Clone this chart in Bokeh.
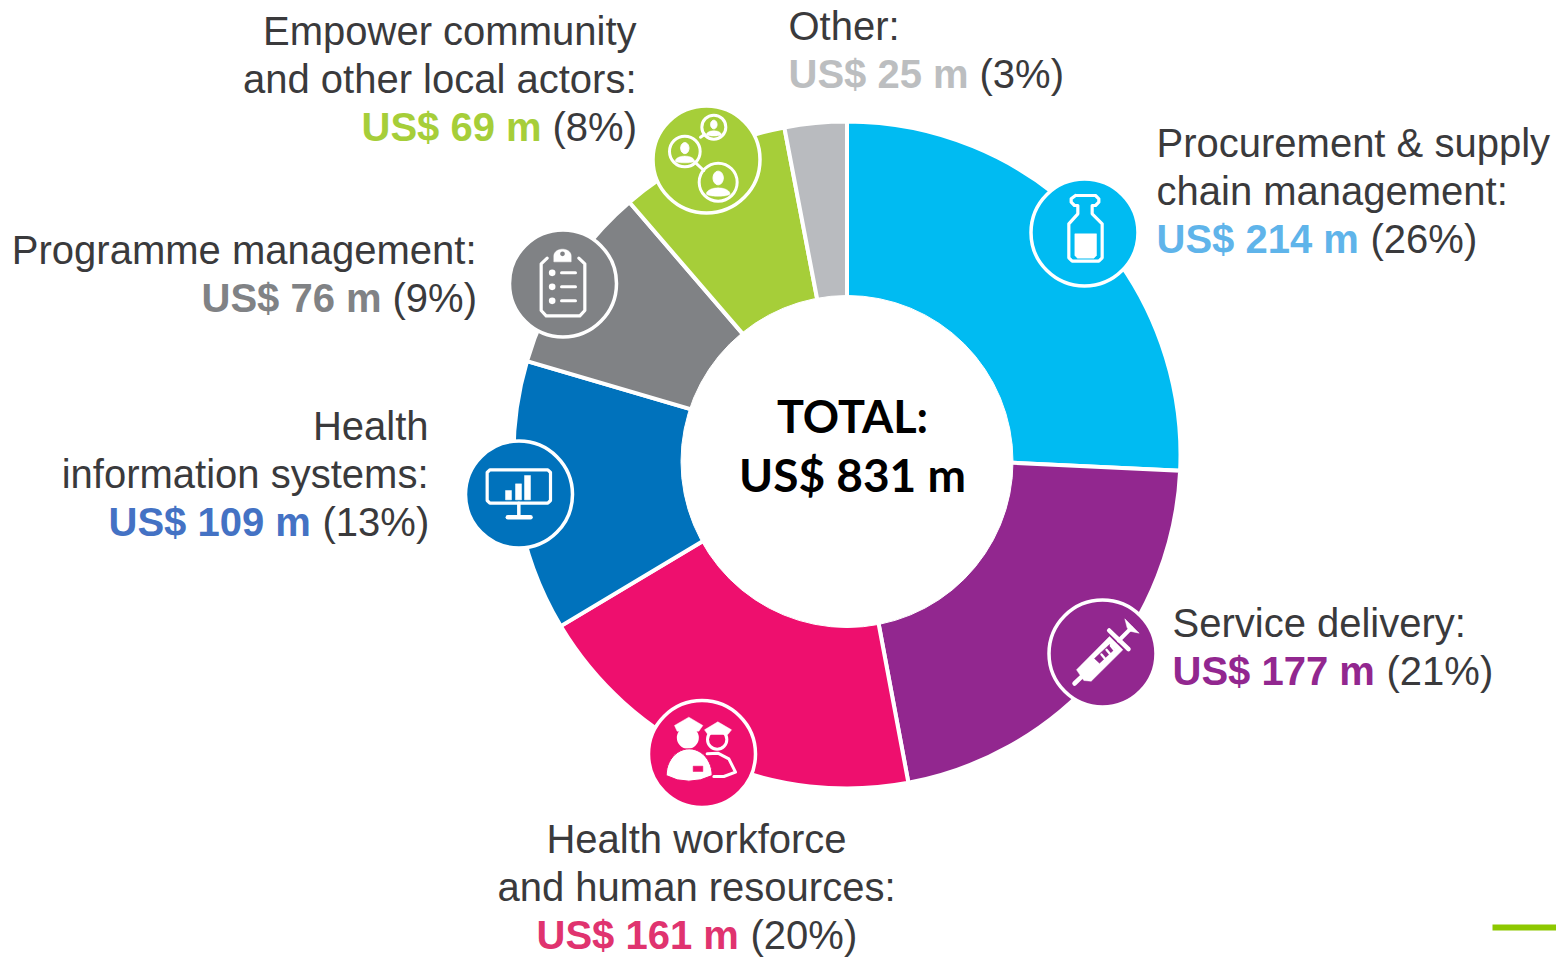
import math
import numpy as np
from bokeh.plotting import figure
from bokeh.models import Range1d
from bokeh.embed import file_html
from bokeh.resources import INLINE
from bokeh.core.properties import value

categories = ["Procurement & supply chain management", "Service delivery",
              "Health workforce and human resources", "Health information systems",
              "Programme management", "Empower community and other local actors", "Other"]
amounts = [214, 177, 161, 109, 76, 69, 25]
percents = [26, 21, 20, 13, 9, 8, 3]
slice_colors = ["#00BBF2", "#92278F", "#EE0F6E", "#0072BC", "#808285", "#A6CE39", "#B9BBBF"]
amount_colors = ["#5FB4EA", "#92278F", "#E0336F", "#4472C4", "#808285", "#A6CE39", "#BCBEC0"]
label_lines = [["Procurement & supply", "chain management:"], ["Service delivery:"],
               ["Health workforce", "and human resources:"], ["Health", "information systems:"],
               ["Programme management:"], ["Empower community", "and other local actors:"], ["Other:"]]
total_lines = ["TOTAL:", "US$ 831 m"]

W, H = 1556, 957
FONT = "Liberation Sans"
INK = "#3A3A3C"
WHITE = "white"


def Y(y):
    return H - y


p = figure(width=W, height=H, x_range=Range1d(0, W), y_range=Range1d(0, H),
           output_backend="svg", toolbar_location=None, min_border=0,
           outline_line_color=None, background_fill_color=WHITE, border_fill_color=WHITE)
p.axis.visible = False
p.grid.visible = False

# --- doughnut (the hole sits a little below the ring's centre, as in the reference)
cx, cy, r_out = 846.5, 454.5, 331.5
frac = np.cumsum([0] + amounts) / sum(amounts) * 2 * math.pi
p.annular_wedge(x=cx, y=Y(cy), inner_radius=140, outer_radius=r_out + 2,
                start_angle=math.pi / 2 - frac[:-1], end_angle=math.pi / 2 - frac[1:],
                direction="clock", fill_color=slice_colors, line_color=WHITE, line_width=4)
p.circle(x=[846.5], y=[Y(461)], radius=166, fill_color=WHITE, line_color=WHITE, line_width=1)

# --- icon discs
discs = [(1084, 232, 0), (1102, 653, 1), (701.5, 753.5, 2), (518.5, 494, 3), (562.5, 283, 4), (706, 159, 5)]
for dx, dy, i in discs:
    p.circle(x=[dx], y=[Y(dy)], radius=53.5, fill_color=slice_colors[i], line_color=WHITE, line_width=3.5)


# --- icon helpers: coordinates in 1/3 px relative to an origin
def mapper(ox, oy):
    return lambda pts: ([ox + a / 3 for a, _ in pts], [Y(oy + b / 3) for _, b in pts])


def stroke(m, pts, w=3.2, c=WHITE):
    xs, ys = m(pts)
    p.line(xs, ys, line_color=c, line_width=w, line_join="round", line_cap="round")


def fill(m, pts, c=WHITE):
    xs, ys = m(pts)
    p.patch(xs, ys, fill_color=c, line_color=c, line_width=0.5)


def dot(m, x, y, r, c=WHITE, lc=None, lw=0):
    xs, ys = m([(x, y)])
    p.circle(x=xs, y=ys, radius=r / 3, fill_color=c, line_color=lc, line_width=lw)


def arc_pts(x, y, rx, ry, a0, a1, n=24):
    return [(x + rx * math.cos(math.radians(a0 + (a1 - a0) * k / n)),
             y + ry * math.sin(math.radians(a0 + (a1 - a0) * k / n))) for k in range(n + 1)]


# bottle
m = mapper(1020, 170)
stroke(m, [(165, 75), (225, 75), (235, 85), (235, 95), (225, 105), (215, 105), (215, 130), (245, 160), (245, 262),
           (235, 272), (155, 272), (145, 262), (145, 160), (172, 130), (172, 105), (162, 105), (152, 95), (152, 85),
           (165, 75)])
fill(m, [(163, 190), (228, 190), (228, 255), (220, 263), (171, 263), (163, 255)])

# syringe
m = mapper(1030, 590)
P = "#92278F"
fill(m, [(138, 238), (237, 138), (277, 178), (182, 272), (160, 270)])
stroke(m, [(132, 279), (152, 260)], 4.5)
stroke(m, [(236, 120), (294, 176)], 4.5)
stroke(m, [(265, 150), (302, 113)], 4)
fill(m, [(283, 85), (326, 128), (298, 122), (290, 112)])
fill(m, [(192, 204), (207, 218), (252, 176), (237, 162)], P)
for a, b in [(213, 192), (228, 178), (241, 166)]:
    stroke(m, [(a, b), (a + 10, b + 12)], 2.4)

# officers
m = mapper(630, 690)
Q = "#EE0F6E"
dot(m, 260, 147, 29, c=None, lc=WHITE, lw=3)
fill(m, [(222, 118), (262, 94), (303, 118), (292, 132), (232, 132)])
stroke(m, [(230, 190), (262, 188), (295, 205), (315, 245), (280, 258), (250, 258)], 3)
dot(m, 172, 142, 38, c=Q)
dot(m, 172, 142, 33)
fill(m, [(132, 105), (175, 80), (217, 105), (205, 122), (140, 122)])
body = arc_pts(176, 255, 69, 80, 180, 360) + [(210, 268), (175, 272), (140, 268)]
xs, ys = m(body)
p.patch(xs, ys, fill_color=WHITE, line_color=Q, line_width=1)
fill(m, [(188, 227), (217, 227), (217, 243), (188, 243)], Q)

# monitor
m = mapper(450, 430)
stroke(m, [(118, 118), (292, 118), (300, 126), (300, 210), (292, 218), (118, 218), (110, 210), (110, 126), (118, 118)])
stroke(m, [(205, 218), (205, 258)], 3.5)
stroke(m, [(172, 260), (240, 260)], 4.5)
for x0, x1, top in [(165, 183, 180), (195, 213, 160), (222, 240, 135)]:
    fill(m, [(x0, top), (x1, top), (x1, 208), (x0, 208)])

# clipboard
m = mapper(450, 90)
stroke(m, [(290, 503), (272, 520), (272, 660), (287, 676), (388, 676), (403, 660), (403, 520), (385, 503)])
fill(m, arc_pts(336, 496, 26, 20, 180, 360) + [(362, 514), (310, 514)])
dot(m, 336, 490, 7, c="#808285")
for yy in (547, 589, 631):
    dot(m, 305, yy, 10)
    stroke(m, [(333, yy), (375, yy)], 3)


# network
def person(m, x, y, r):
    dot(m, x, y, r, c=None, lc=WHITE, lw=3)
    xs, ys = m(arc_pts(x, y - 0.22 * r, 0.27 * r, 0.36 * r, 0, 360))
    p.patch(xs, ys, fill_color=WHITE, line_color=WHITE)
    fill(m, arc_pts(x, y + 0.62 * r, 0.62 * r, 0.32 * r, 180, 360) + arc_pts(x, y + 0.62 * r, 0.62 * r, 0.12 * r, 0, 180))


m = mapper(450, 90)
stroke(m, [(750, 140), (762, 132)], 3)
stroke(m, [(733, 215), (760, 240)], 3)
person(m, 790, 110, 36)
person(m, 703, 183, 46)
person(m, 803, 275, 57)


# --- labels
def text(x, y, s, color=INK, align="left", style="normal", size=40, font=FONT):
    p.text(x=[x], y=[Y(y) + 0.375 * size], text=[s], text_color=color, text_align=align, text_baseline="alphabetic",
           text_font=value(font), text_font_size=f"{size}px", text_font_style=style)


def money(i):
    return f"US$ {amounts[i]} m"


def pct(i):
    return f"({percents[i]}%)"


# (first-line x, first baseline, line alignment, x of amount, x of percent)
layout = [(1156, 157, "left", 1156, 1370), (1172, 637, "left", 1172, 1386), (696, 853, "center", 536, 750),
          (428, 440, "right", 108, 322), (476, 264, "right", 201, 392), (636, 45, "right", 361, 552),
          (788, 40, "left", 788, 979)]
for i, (x, y, al, xa, xp) in enumerate(layout):
    for k, s in enumerate(label_lines[i]):
        text(x, y + 48 * k, s, align=al)
    yy = y + 48 * len(label_lines[i])
    text(xa, yy, money(i), color=amount_colors[i], style="bold")
    text(xp, yy, pct(i))

text(852, 432, total_lines[0], color="black", align="center", style="bold", size=45, font="Lato")
text(852, 491, total_lines[1], color="black", align="center", style="bold", size=46, font="Lato")

# green rule at the lower right
p.quad(left=[1492], right=[1556], bottom=[Y(930)], top=[Y(924)], fill_color="#8DC800", line_color=None)

open("out.html", "w").write(file_html(p, INLINE))
